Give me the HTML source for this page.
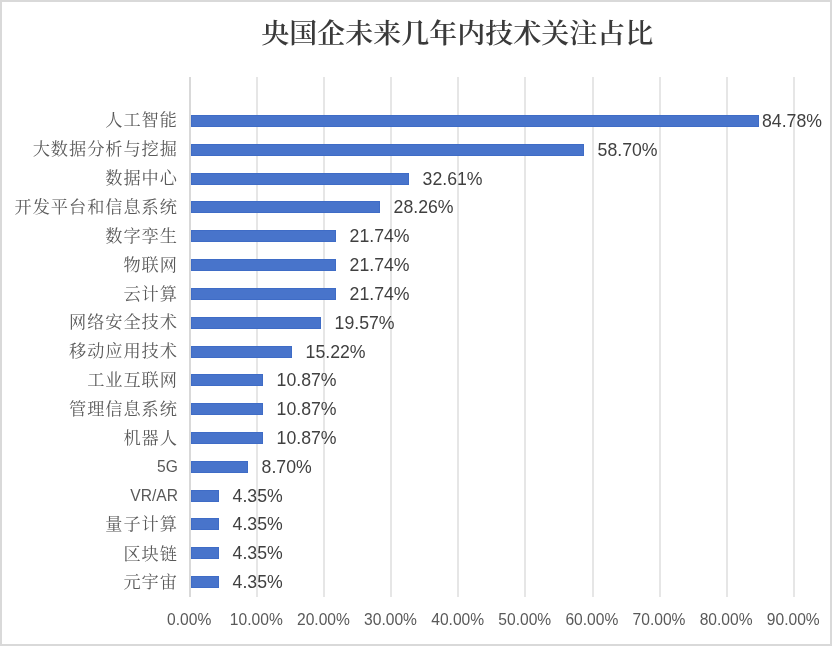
<!DOCTYPE html>
<html lang="zh-CN">
<head>
<meta charset="utf-8">
<title>央国企未来几年内技术关注占比</title>
<style>
html,body{margin:0;padding:0;background:#fff;}
body{width:832px;height:646px;overflow:hidden;}
#chart{position:relative;width:828px;height:642px;border:2px solid #d9d9d9;background:#fff;overflow:hidden;}
#chart div{position:absolute;white-space:nowrap;}
#inner{left:-2px;top:-2px;width:832px;height:646px;}
.g{background:#e6e6e6;}
.x{background:#d9d9d9;}
.b{background:#4874cb;box-shadow:inset 0 0 0 1px #3f6cc6;}
.t{font-family:"Liberation Serif","Noto Serif CJK SC",serif;font-weight:600;font-size:28px;color:#3a3a3a;line-height:40px;height:40px;transform:translateX(-50%) scaleY(0.96);}
.c{font-family:"Liberation Serif","Noto Serif CJK SC",serif;font-weight:400;font-size:17.2px;color:#595959;line-height:24px;height:24px;text-align:right;letter-spacing:0.95px;margin-right:-0.95px;}
.l{font-family:"Liberation Sans",sans-serif;font-size:15.6px;color:#595959;line-height:24px;height:24px;text-align:right;}
.d{font-family:"Liberation Sans",sans-serif;font-size:17.7px;color:#404040;line-height:24px;height:24px;}
.a{font-family:"Liberation Sans",sans-serif;font-size:15.6px;color:#595959;line-height:20px;height:20px;transform:translateX(-50%);}

</style>
</head>
<body>
<div id="chart"><div id="inner">
<div class="t" style="left:457.3px;top:14.1px">央国企未来几年内技术关注占比</div>
<div class="x" style="left:189px;top:77px;width:2px;height:520px"></div>
<div class="g" style="left:256px;top:77px;width:2px;height:520px"></div>
<div class="g" style="left:323px;top:77px;width:2px;height:520px"></div>
<div class="g" style="left:390px;top:77px;width:2px;height:520px"></div>
<div class="g" style="left:457px;top:77px;width:2px;height:520px"></div>
<div class="g" style="left:524px;top:77px;width:2px;height:520px"></div>
<div class="g" style="left:592px;top:77px;width:2px;height:520px"></div>
<div class="g" style="left:659px;top:77px;width:2px;height:520px"></div>
<div class="g" style="left:726px;top:77px;width:2px;height:520px"></div>
<div class="g" style="left:793px;top:77px;width:2px;height:520px"></div>
<div class="b" style="left:191px;top:115px;width:568px;height:12px"></div>
<div class="c" style="right:655.1px;top:109.30px">人工智能</div>
<div class="d" style="left:762.00px;top:109.00px">84.78%</div>
<div class="b" style="left:191px;top:144px;width:393px;height:12px"></div>
<div class="c" style="right:655.1px;top:137.70px">大数据分析与挖掘</div>
<div class="d" style="left:597.60px;top:138.00px">58.70%</div>
<div class="b" style="left:191px;top:173px;width:218px;height:12px"></div>
<div class="c" style="right:655.1px;top:167.30px">数据中心</div>
<div class="d" style="left:422.60px;top:167.00px">32.61%</div>
<div class="b" style="left:191px;top:201px;width:189px;height:12px"></div>
<div class="c" style="right:655.1px;top:196.20px">开发平台和信息系统</div>
<div class="d" style="left:393.60px;top:195.00px">28.26%</div>
<div class="b" style="left:191px;top:230px;width:145px;height:12px"></div>
<div class="c" style="right:655.1px;top:225.30px">数字孪生</div>
<div class="d" style="left:349.60px;top:224.00px">21.74%</div>
<div class="b" style="left:191px;top:259px;width:145px;height:12px"></div>
<div class="c" style="right:655.1px;top:253.90px">物联网</div>
<div class="d" style="left:349.60px;top:253.00px">21.74%</div>
<div class="b" style="left:191px;top:288px;width:145px;height:12px"></div>
<div class="c" style="right:655.1px;top:282.80px">云计算</div>
<div class="d" style="left:349.60px;top:282.00px">21.74%</div>
<div class="b" style="left:191px;top:317px;width:130px;height:12px"></div>
<div class="c" style="right:655.1px;top:311.30px">网络安全技术</div>
<div class="d" style="left:334.60px;top:311.00px">19.57%</div>
<div class="b" style="left:191px;top:346px;width:101px;height:12px"></div>
<div class="c" style="right:655.1px;top:340.10px">移动应用技术</div>
<div class="d" style="left:305.60px;top:340.00px">15.22%</div>
<div class="b" style="left:191px;top:374px;width:72px;height:12px"></div>
<div class="c" style="right:655.1px;top:368.60px">工业互联网</div>
<div class="d" style="left:276.60px;top:368.00px">10.87%</div>
<div class="b" style="left:191px;top:403px;width:72px;height:12px"></div>
<div class="c" style="right:655.1px;top:398.00px">管理信息系统</div>
<div class="d" style="left:276.60px;top:397.00px">10.87%</div>
<div class="b" style="left:191px;top:432px;width:72px;height:12px"></div>
<div class="c" style="right:655.1px;top:426.90px">机器人</div>
<div class="d" style="left:276.60px;top:426.00px">10.87%</div>
<div class="b" style="left:191px;top:461px;width:57px;height:12px"></div>
<div class="l" style="right:654.1px;top:455.00px">5G</div>
<div class="d" style="left:261.60px;top:455.00px">8.70%</div>
<div class="b" style="left:191px;top:490px;width:28px;height:12px"></div>
<div class="l" style="right:654.1px;top:484.00px">VR/AR</div>
<div class="d" style="left:232.60px;top:484.00px">4.35%</div>
<div class="b" style="left:191px;top:518px;width:28px;height:12px"></div>
<div class="c" style="right:655.1px;top:513.30px">量子计算</div>
<div class="d" style="left:232.60px;top:512.00px">4.35%</div>
<div class="b" style="left:191px;top:547px;width:28px;height:12px"></div>
<div class="c" style="right:655.1px;top:542.60px">区块链</div>
<div class="d" style="left:232.60px;top:541.00px">4.35%</div>
<div class="b" style="left:191px;top:576px;width:28px;height:12px"></div>
<div class="c" style="right:655.1px;top:570.80px">元宇宙</div>
<div class="d" style="left:232.60px;top:570.00px">4.35%</div>
<div class="a" style="left:189.20px;top:610.00px">0.00%</div>
<div class="a" style="left:256.32px;top:610.00px">10.00%</div>
<div class="a" style="left:323.43px;top:610.00px">20.00%</div>
<div class="a" style="left:390.55px;top:610.00px">30.00%</div>
<div class="a" style="left:457.66px;top:610.00px">40.00%</div>
<div class="a" style="left:524.78px;top:610.00px">50.00%</div>
<div class="a" style="left:591.90px;top:610.00px">60.00%</div>
<div class="a" style="left:659.01px;top:610.00px">70.00%</div>
<div class="a" style="left:726.13px;top:610.00px">80.00%</div>
<div class="a" style="left:793.24px;top:610.00px">90.00%</div>
</div></div>
</body>
</html>
